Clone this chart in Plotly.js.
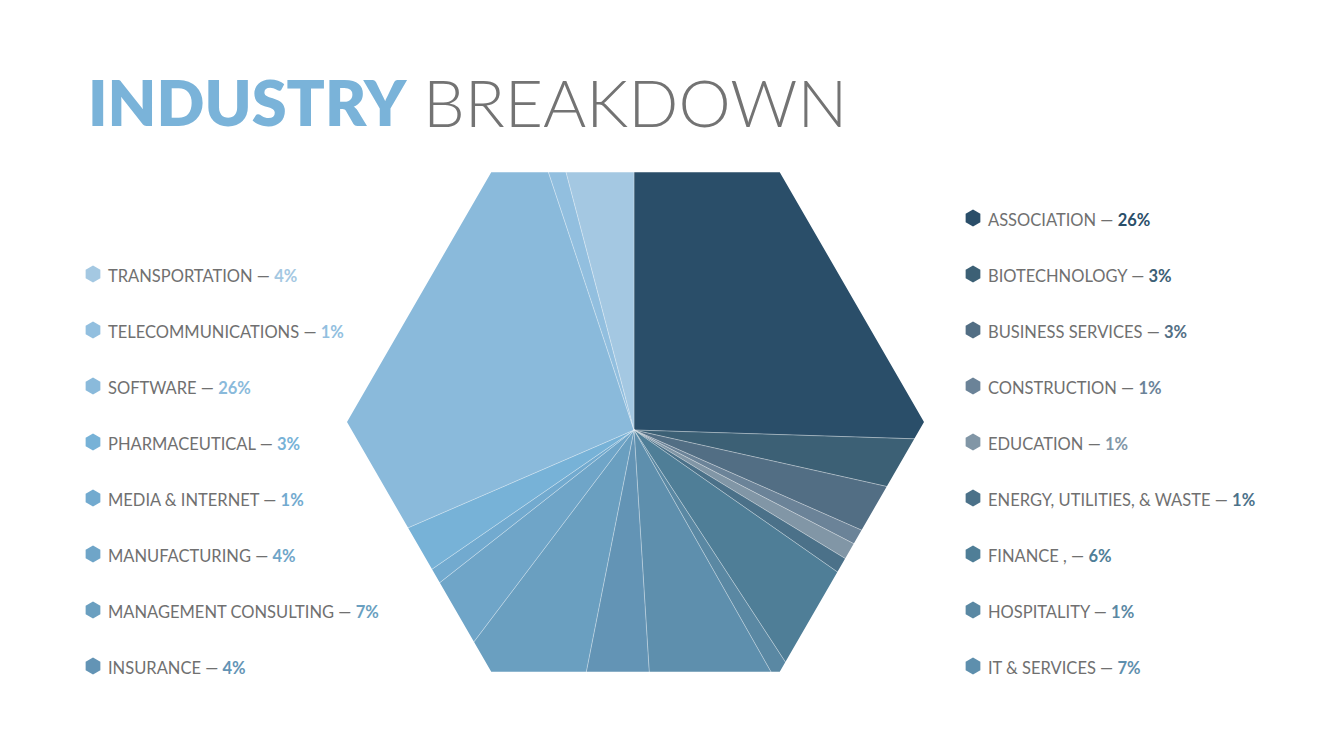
<!DOCTYPE html>
<html>
<head>
<meta charset="utf-8">
<script src="https://cdn.plot.ly/plotly-3.0.1.min.js"></script>
<style>html,body{margin:0;padding:0;background:#fff}</style>
</head>
<body>
<div id="industry-chart" style="width:1342px;height:755px"></div>
<script>
// industries in pie order (clockwise from 12 o'clock)
const industries = [
  'ASSOCIATION', 'BIOTECHNOLOGY', 'BUSINESS SERVICES', 'CONSTRUCTION', 'EDUCATION',
  'ENERGY, UTILITIES, & WASTE', 'FINANCE ,', 'HOSPITALITY', 'IT & SERVICES',
  'INSURANCE', 'MANAGEMENT CONSULTING', 'MANUFACTURING', 'MEDIA & INTERNET',
  'PHARMACEUTICAL', 'SOFTWARE', 'TELECOMMUNICATIONS', 'TRANSPORTATION'
];
// slice sizes (%), legend shows them rounded
const shares = [25.5, 3.0, 3.1, 1.0, 1.1, 1.0, 6.1, 1.0, 7.2, 4.1, 7.2, 4.1, 1.0, 3.1, 26.4, 1.0, 4.1];
const sliceColors = [
  '#2a4e69', '#3c6075', '#526e84', '#6b8398', '#8196a6',
  '#4b7189', '#4f7e97', '#5a88a3', '#5e8fad',
  '#6394b5', '#6a9fc0', '#6fa5c8', '#72aacf',
  '#77b2d7', '#8abadb', '#92bfdf', '#a4c8e2'
];

function drawIndustryChart() {
  const W = 1342, H = 755;
  const cx = 634, cy = 430, R = 300;          // pie centre / radius in px
  const hx = 635.5, hy = 422, hr = 288.5;     // hexagon outline

  const pie = {
    type: 'pie',
    labels: industries,
    values: shares,
    sort: false,
    direction: 'clockwise',
    rotation: 0,
    textinfo: 'none',
    hoverinfo: 'label+percent',
    marker: { colors: sliceColors, line: { color: 'rgba(255,255,255,0.35)', width: 0.8 } },
    domain: { x: [(cx - R) / W, (cx + R) / W], y: [(H - cy - R) / H, (H - cy + R) / H] },
    showlegend: false
  };

  // legend rows: right column top-down, left column reversed
  const mx = [], my = [], mc = [];
  const annotations = [];
  industries.forEach((name, i) => {
    let x, y;
    if (i < 9) { x = 973; y = 218 + 56 * i; }
    else { x = 93; y = 666 - 56 * (i - 9); }
    mx.push(x); my.push(y); mc.push(sliceColors[i]);
    annotations.push({
      xref: 'x', yref: 'y', x: x + 13, y: y + 1.5, xanchor: 'left', yanchor: 'middle',
      showarrow: false,
      text: name + ' — <span style="color:' + sliceColors[i] + ';font-weight:bold">' + Math.round(shares[i]) + '%</span>',
      font: { family: 'Lato, sans-serif', size: 16.5, color: '#707070' }
    });
  });

  annotations.push({
    xref: 'x', yref: 'y', x: 86, y: 101, xanchor: 'left', yanchor: 'middle',
    showarrow: false, text: 'INDUSTRY',
    font: { family: 'Lato, sans-serif', size: 63, color: '#7ab3d9', weight: 800 }
  });
  annotations.push({
    xref: 'x', yref: 'y', x: 421, y: 101, xanchor: 'left', yanchor: 'middle',
    showarrow: false, text: 'BREAKDOWN',
    font: { family: 'Lato, sans-serif', size: 66, color: '#737373', weight: 300 }
  });

  const markers = {
    type: 'scatter', mode: 'markers', x: mx, y: my,
    marker: { symbol: 'hexagon', size: 17, color: mc },
    hoverinfo: 'skip', showlegend: false
  };

  // white mask: circle around the pie minus the hexagon
  let path = '';
  for (let k = 0; k <= 72; k++) {
    const a = 2 * Math.PI * k / 72;
    path += (k ? 'L' : 'M') + (cx + (R + 4) * Math.cos(a)) + ',' + (cy + (R + 4) * Math.sin(a));
  }
  path += 'Z';
  for (let k = 0; k < 6; k++) {
    const a = Math.PI * k / 3;
    path += (k ? 'L' : 'M') + (hx + hr * Math.cos(a)) + ',' + (hy + hr * Math.sin(a));
  }
  path += 'Z';

  const layout = {
    width: W, height: H,
    margin: { l: 0, r: 0, t: 0, b: 0 },
    paper_bgcolor: '#ffffff', plot_bgcolor: 'rgba(0,0,0,0)',
    showlegend: false,
    xaxis: { range: [0, W], visible: false, fixedrange: true },
    yaxis: { range: [H, 0], visible: false, fixedrange: true },
    shapes: [{
      type: 'path', xref: 'x', yref: 'y', path: path, fillrule: 'evenodd',
      fillcolor: '#ffffff', line: { width: 0 }, layer: 'above'
    }],
    annotations: annotations
  };

  Plotly.newPlot('industry-chart', [markers, pie], layout, { displayModeBar: false, staticPlot: true });
}

document.addEventListener('DOMContentLoaded', drawIndustryChart);
</script>
</body>
</html>
